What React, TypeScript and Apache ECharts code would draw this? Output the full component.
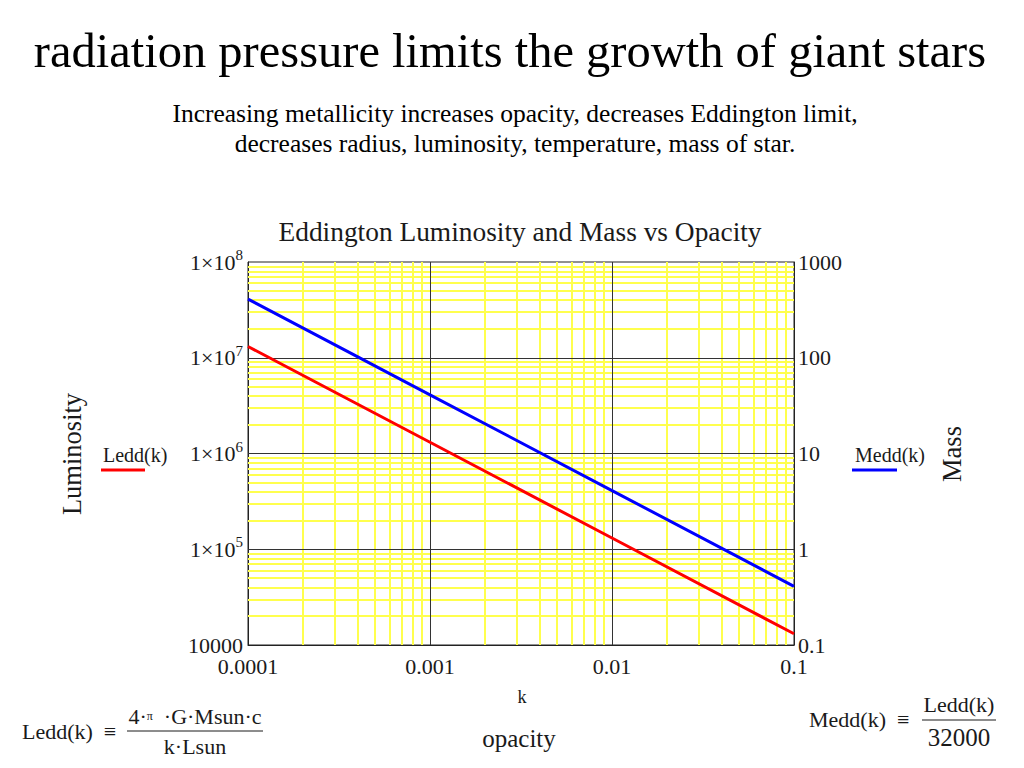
import React, { useEffect, useRef } from "react";
import * as echarts from "echarts";

// ---- data ----
const kValues = [0.0001, 0.001, 0.01, 0.1];
const lumValues = [1.31e7, 1.31e6, 1.31e5, 1.31e4];
const massValues = [410, 41, 4.1, 0.41];

const xTickLabels = ["0.0001", "0.001", "0.01", "0.1"];
const leftTickLabels = ["10000", "1×10^5", "1×10^6", "1×10^7", "1×10^8"];
const rightTickLabels = ["0.1", "1", "10", "100", "1000"];

const xDecades = [0.0001, 0.001, 0.01];
const yDecades = [10000, 100000, 1000000, 10000000];
const minorMultipliers = [2, 3, 4, 5, 6, 7, 8, 9];

const X_MIN = 0.0001;
const X_MAX = 0.1;
const Y_MIN = 10000;
const Y_MAX = 100000000;

const FONT = "'Liberation Serif', 'Times New Roman', serif";
const TXT = "#1a1a1a";

export default function App() {
  const ref = useRef<HTMLDivElement>(null);

  useEffect(() => {
    if (!ref.current) return;
    const chart = echarts.init(ref.current, null, { renderer: "svg" });

    const xMinor: number[] = [];
    xDecades.forEach((d) => minorMultipliers.forEach((m) => xMinor.push(d * m)));
    const yMinor: number[] = [];
    yDecades.forEach((d) => minorMultipliers.forEach((m) => yMinor.push(d * m)));
    const xMajor = [0.001, 0.01];
    const yMajor = [100000, 1000000, 10000000];

    const leftFmt = (v: number) => {
      const i = Math.round(Math.log10(v)) - 4;
      const s = leftTickLabels[i] ?? "";
      if (s.includes("^")) {
        const [b, e] = s.split("^");
        return `{a|${b}}{s|${e}}`;
      }
      return `{a|${s}}`;
    };
    const rightFmt = (v: number) => rightTickLabels[Math.round(Math.log10(v)) + 1] ?? "";
    const xFmt = (v: number) => xTickLabels[Math.round(Math.log10(v)) + 4] ?? "";

    const gridLines = (vx: number[], vy: number[], color: string, width: number, z: number) => ({
      type: "lines",
      coordinateSystem: "cartesian2d",
      xAxisIndex: 0,
      yAxisIndex: 0,
      z,
      silent: true,
      polyline: false,
      lineStyle: { color, width, type: "solid", opacity: 1 },
      data: [
        ...vx.map((v) => ({ coords: [[v, Y_MIN], [v, Y_MAX]] })),
        ...vy.map((v) => ({ coords: [[X_MIN, v], [X_MAX, v]] })),
      ],
    });

    const option: any = {
      animation: false,
      backgroundColor: "#ffffff",
      grid: {
        left: 248,
        right: 230,
        top: 262,
        bottom: 123,
        show: true,
        borderColor: "#222",
        borderWidth: 1,
        backgroundColor: "transparent",
      },
      xAxis: {
        type: "log",
        logBase: 10,
        min: X_MIN,
        max: X_MAX,
        splitNumber: 3,
        axisLine: { show: true, lineStyle: { color: "#222", width: 1 } },
        axisTick: { show: false },
        splitLine: { show: false },
        minorTick: { show: false },
        minorSplitLine: { show: false },
        axisLabel: {
          formatter: xFmt,
          fontFamily: FONT,
          fontSize: 22,
          color: TXT,
          margin: 10,
        },
      },
      yAxis: [
        {
          type: "log",
          logBase: 10,
          min: Y_MIN,
          max: Y_MAX,
          splitNumber: 4,
          axisLine: { show: true, lineStyle: { color: "#222", width: 1 } },
          axisTick: { show: false },
          splitLine: { show: false },
          minorSplitLine: { show: false },
          axisLabel: {
            formatter: leftFmt,
            fontFamily: FONT,
            color: TXT,
            margin: 5,
            rich: {
              a: { fontSize: 22, fontFamily: FONT, color: TXT },
              s: { fontSize: 15, fontFamily: FONT, color: TXT, padding: [0, 0, 14, 0] },
            },
          },
        },
        {
          type: "log",
          logBase: 10,
          min: 0.1,
          max: 1000,
          splitNumber: 4,
          position: "right",
          axisLine: { show: true, lineStyle: { color: "#222", width: 1 } },
          axisTick: { show: false },
          splitLine: { show: false },
          minorSplitLine: { show: false },
          axisLabel: {
            formatter: rightFmt,
            fontFamily: FONT,
            fontSize: 22,
            color: TXT,
            margin: 4,
          },
        },
      ],
      series: [
        gridLines(xMinor, yMinor, "#ffff4d", 2, 1),
        gridLines(xMajor, yMajor, "#333333", 1, 2),
        {
          name: "Ledd(k)",
          type: "line",
          yAxisIndex: 0,
          data: kValues.map((k, i) => [k, lumValues[i]]),
          showSymbol: false,
          lineStyle: { color: "#ff0000", width: 3 },
          itemStyle: { color: "#ff0000" },
          z: 5,
        },
        {
          name: "Medd(k)",
          type: "line",
          yAxisIndex: 1,
          data: kValues.map((k, i) => [k, massValues[i]]),
          showSymbol: false,
          lineStyle: { color: "#0000ff", width: 3 },
          itemStyle: { color: "#0000ff" },
          z: 5,
        },
      ],
      graphic: [
        {
          type: "text",
          x: 510,
          y: 50,
          style: {
            text: "radiation pressure limits the growth of giant stars",
            font: `48.5px ${FONT}`,
            fill: "#000",
            textAlign: "center",
            textVerticalAlign: "middle",
          },
        },
        {
          type: "text",
          x: 515,
          y: 113,
          style: {
            text: "Increasing metallicity increases opacity, decreases Eddington limit,",
            font: `25.5px ${FONT}`,
            fill: "#000",
            textAlign: "center",
            textVerticalAlign: "middle",
          },
        },
        {
          type: "text",
          x: 515,
          y: 143,
          style: {
            text: "decreases radius, luminosity, temperature, mass of star.",
            font: `25.5px ${FONT}`,
            fill: "#000",
            textAlign: "center",
            textVerticalAlign: "middle",
          },
        },
        {
          type: "text",
          x: 520,
          y: 232,
          style: {
            text: "Eddington Luminosity and Mass vs Opacity",
            font: `27.4px ${FONT}`,
            fill: TXT,
            textAlign: "center",
            textVerticalAlign: "middle",
          },
        },
        {
          type: "text",
          x: 72,
          y: 454,
          rotation: Math.PI / 2,
          style: {
            text: "Luminosity",
            font: `26.5px ${FONT}`,
            fill: TXT,
            textAlign: "center",
            textVerticalAlign: "middle",
          },
        },
        {
          type: "text",
          x: 952,
          y: 454,
          rotation: Math.PI / 2,
          style: {
            text: "Mass",
            font: `26.5px ${FONT}`,
            fill: TXT,
            textAlign: "center",
            textVerticalAlign: "middle",
          },
        },
        {
          type: "text",
          x: 103,
          y: 455,
          style: {
            text: "Ledd(k)",
            font: `20px ${FONT}`,
            fill: TXT,
            textAlign: "left",
            textVerticalAlign: "middle",
          },
        },
        {
          type: "line",
          shape: { x1: 101, y1: 470, x2: 145, y2: 470 },
          style: { stroke: "#ff0000", lineWidth: 3 },
        },
        {
          type: "text",
          x: 855,
          y: 455,
          style: {
            text: "Medd(k)",
            font: `20px ${FONT}`,
            fill: TXT,
            textAlign: "left",
            textVerticalAlign: "middle",
          },
        },
        {
          type: "line",
          shape: { x1: 852, y1: 470, x2: 897, y2: 470 },
          style: { stroke: "#0000ff", lineWidth: 3 },
        },
        {
          type: "text",
          x: 522,
          y: 697,
          style: {
            text: "k",
            font: `18px ${FONT}`,
            fill: TXT,
            textAlign: "center",
            textVerticalAlign: "middle",
          },
        },
        {
          type: "text",
          x: 519,
          y: 738,
          style: {
            text: "opacity",
            font: `25px ${FONT}`,
            fill: TXT,
            textAlign: "center",
            textVerticalAlign: "middle",
          },
        },
        // Ledd formula
        {
          type: "text",
          x: 22,
          y: 731,
          style: {
            text: "Ledd(k)  ≡",
            font: `22px ${FONT}`,
            fill: TXT,
            textAlign: "left",
            textVerticalAlign: "middle",
          },
        },
        {
          type: "text",
          x: 195,
          y: 716,
          style: {
            text: "4·{p|π}  ·G·Msun·c",
            font: `22px ${FONT}`,
            fill: TXT,
            textAlign: "center",
            textVerticalAlign: "middle",
            rich: { p: { fontSize: 12, fontFamily: FONT, fill: TXT } },
          },
        },
        {
          type: "line",
          shape: { x1: 127, y1: 731, x2: 263, y2: 731 },
          style: { stroke: TXT, lineWidth: 1 },
        },
        {
          type: "text",
          x: 195,
          y: 746,
          style: {
            text: "k·Lsun",
            font: `22px ${FONT}`,
            fill: TXT,
            textAlign: "center",
            textVerticalAlign: "middle",
          },
        },
        // Medd formula
        {
          type: "text",
          x: 809,
          y: 719,
          style: {
            text: "Medd(k)  ≡",
            font: `22px ${FONT}`,
            fill: TXT,
            textAlign: "left",
            textVerticalAlign: "middle",
          },
        },
        {
          type: "text",
          x: 959,
          y: 704,
          style: {
            text: "Ledd(k)",
            font: `22px ${FONT}`,
            fill: TXT,
            textAlign: "center",
            textVerticalAlign: "middle",
          },
        },
        {
          type: "line",
          shape: { x1: 922, y1: 720, x2: 996, y2: 720 },
          style: { stroke: TXT, lineWidth: 1 },
        },
        {
          type: "text",
          x: 959,
          y: 737,
          style: {
            text: "32000",
            font: `25px ${FONT}`,
            fill: TXT,
            textAlign: "center",
            textVerticalAlign: "middle",
          },
        },
      ],
    };

    chart.setOption(option);
    return () => chart.dispose();
  }, []);

  return (
    <div
      ref={ref}
      style={{ position: "absolute", left: 0, top: 0, width: 1024, height: 768, background: "#fff" }}
    />
  );
}
